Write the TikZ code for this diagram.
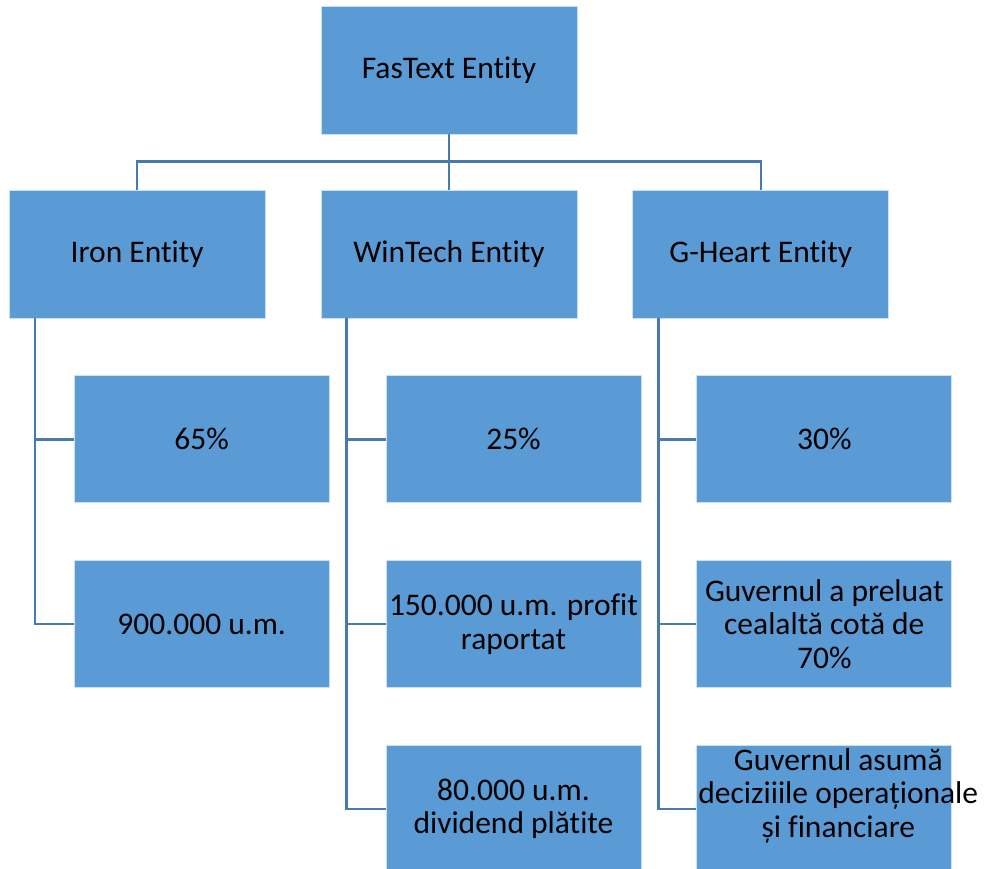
\documentclass[tikz,border=0pt]{standalone}
\usepackage{fontspec}
\setmainfont[Ligatures=NoCommon]{Carlito}
\usepackage{tikz}
\definecolor{boxblue}{RGB}{91,155,213}
\definecolor{linkblue}{RGB}{70,122,176}
\usetikzlibrary{positioning}
\tikzset{entText/.style={font=\fontsize{31.5}{33.5}\selectfont,align=center,text=black}}

\begin{document}
\begin{tikzpicture}[x=1pt,y=-1pt,
  entBox/.style={rectangle,draw=white!70!boxblue,fill=boxblue,line width=0.8pt,minimum width=256pt,minimum height=128pt,inner sep=0pt,entText},
  subBox/.style={entBox,minimum width=255pt,minimum height=127pt},
  link/.style={draw=linkblue,line width=2.5pt}]
	\useasboundingbox (0,0) rectangle (985,868);
	\node[entBox] (fas) at (449,70) {FasText Entity};
	\node[entBox] (win) at (449,254) {WinTech Entity};
	\node[entBox,left=55pt of win] (iron) {Iron Entity};
	\node[entBox,right=55pt of win] (gheart) {G-Heart Entity};
	\node[subBox,below right=57pt and 65pt of iron.south west,anchor=north west] (ironA) {65\%};
	\node[subBox,below=57pt of ironA] (ironB) {900.000 u.m.};
	\node[subBox,below right=57pt and 65pt of win.south west,anchor=north west] (winA) {25\%};
	\node[subBox,below=57pt of winA] (winB) {150.000 u.m. profit\\raportat};
	\node[subBox,below=57pt of winB] (winC) {80.000 u.m.\\dividend plătite};
	\node[subBox,below right=57pt and 64pt of gheart.south west,anchor=north west] (gheartA) {30\%};
	\node[subBox,below=57pt of gheartA] (gheartB) {Guvernul a preluat\\cealaltă cotă de\\70\%};
	\node[subBox,below=57pt of gheartB,label={[name=gheartCtext,anchor=north,xshift=14pt,yshift=0pt,entText]north:Guvernul asumă\\deciziiile operaționale\\și financiare}] (gheartC) {};
	\coordinate (hub) at ([yshift=-27pt]fas.south);
	\coordinate (ironRail) at ([xshift=26pt]iron.south west);
	\coordinate (winRail) at ([xshift=26pt]win.south west);
	\coordinate (gheartRail) at ([xshift=26pt]gheart.south west);
	% top level
	\draw[link] (fas.south) -- (hub) -- (win.north);
	\draw[link] (iron.north) -- (iron.north |- hub) -- (gheart.north |- hub) -- (gheart.north);
	% side rails
	\draw[link] (ironRail) |- (ironA.west);
	\draw[link] (ironRail) |- (ironB.west);
	\draw[link] (winRail) |- (winA.west);
	\draw[link] (winRail) |- (winB.west);
	\draw[link] (winRail) |- (winC.west);
	\draw[link] (gheartRail) |- (gheartA.west);
	\draw[link] (gheartRail) |- (gheartB.west);
	\draw[link] (gheartRail) |- (gheartC.west);
\end{tikzpicture}
\end{document}
